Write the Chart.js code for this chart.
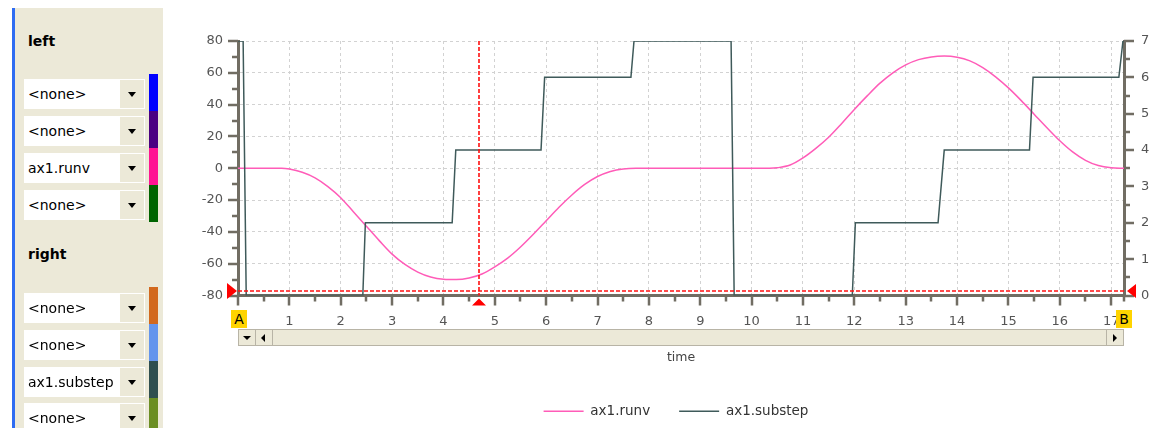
<!DOCTYPE html>
<html>
<head>
<meta charset="utf-8">
<script src="https://cdn.jsdelivr.net/npm/chart.js@4.4.1/dist/chart.umd.min.js"></script>
<style>
  body { margin: 0; width: 1152px; height: 428px; overflow: hidden; background: #fff; position: relative; font-family: 'DejaVu Sans', sans-serif; }
  .abs { position: absolute; }
  .slot { position: absolute; left: 24px; width: 121px; height: 30px; background: #fff; }
  .slot span { position: absolute; left: 4px; top: 7px; font-size: 14px; color: #000; }
  .slot .btn { position: absolute; right: 1px; top: 1px; width: 24px; height: 28px; background: #ece9d8; }
  .slot .btn:after { content: ''; position: absolute; left: 8px; top: 12px; border-left: 4px solid transparent; border-right: 4px solid transparent; border-top: 5px solid #000; }
  .head { position: absolute; left: 28px; font-size: 14px; font-weight: bold; color: #000; }
  .marker { position: absolute; width: 16px; height: 18px; background: #ffd400; font-size: 14px; text-align: center; line-height: 18px; color: #000; }
  .sbtn { position: absolute; top: 0; width: 16px; height: 15px; border-right: 1px solid #b8b4a6; }
</style>
</head>
<body>
<!-- side panel -->
<div class="abs" style="left:12px;top:8px;width:3px;height:420px;background:#2e6cf2"></div>
<div class="abs" id="panel" style="left:15px;top:8px;width:148px;height:420px;background:#ece9d8"></div>
<div class="head" style="top:33px">left</div>
<div class="head" style="top:246px">right</div>

<!-- chart -->
<div class="abs" style="left:182px;top:0;width:970px;height:428px">
  <canvas id="chart" width="970" height="428"></canvas>
</div>

<!-- scroll bar under the time axis -->
<div class="abs" style="left:238px;top:329px;width:884px;height:15px;background:#ece9d8;border:1px solid #b8b4a6">
  <div class="sbtn" style="left:0"><div class="abs" style="left:4px;top:6px;border-left:4px solid transparent;border-right:4px solid transparent;border-top:4px solid #000"></div></div>
  <div class="sbtn" style="left:17px"><div class="abs" style="left:5px;top:4px;border-top:4px solid transparent;border-bottom:4px solid transparent;border-right:4px solid #000"></div></div>
  <div class="sbtn" style="right:0;border-right:none;border-left:1px solid #b8b4a6"><div class="abs" style="left:6px;top:4px;border-top:4px solid transparent;border-bottom:4px solid transparent;border-left:4px solid #000"></div></div>
</div>
<div class="marker" style="left:231px;top:310px">A</div>
<div class="marker" style="left:1116px;top:310px">B</div>

<script>
// signal slots shown in the side panel
const leftSlots = ['<none>', '<none>', 'ax1.runv', '<none>'];
const leftColors = ['#0000ff', '#4b0082', '#ff1493', '#006400'];
const rightSlots = ['<none>', '<none>', 'ax1.substep', '<none>'];
const rightColors = ['#d2691e', '#6495ed', '#2f4f4f', '#6b8e23'];

// ax1.runv (left axis)
const runvTimes = [0, 0.5, 0.85, 1.0, 1.25, 1.5, 1.75, 2.0, 2.25, 2.5, 2.75, 3.0, 3.25, 3.5, 3.75, 4.0, 4.25, 4.5, 4.75, 5.0,
  5.25, 5.5, 5.75, 6.0, 6.25, 6.5, 6.75, 7.0, 7.25, 7.5, 7.75, 8.5, 9.5, 10.35, 10.5, 10.75, 11.0, 11.25, 11.5, 11.75,
  12.0, 12.25, 12.5, 12.75, 13.0, 13.25, 13.5, 13.75, 14.0, 14.25, 14.5, 14.75, 15.0, 15.25, 15.5, 15.75, 16.0, 16.25,
  16.5, 16.75, 17.0, 17.25];
const runvValues = [0, 0, 0, -0.5, -2.5, -6, -11.5, -18.5, -27.5, -36.5, -45.5, -54, -60.5, -65.3, -68.4, -69.8, -70, -69, -66.5, -62,
  -56.5, -49.5, -41.5, -33, -24.5, -16.8, -10.2, -5.2, -2, -0.4, 0, 0, 0, 0, 0.3, 2, 6.5, 12.5, 19.5, 28,
  37, 45.5, 53.5, 60, 65, 68.3, 70, 70.5, 69.8, 67.5, 63.3, 57.5, 50.5, 42.5, 34, 25.5, 17.3, 10.3,
  5, 1.7, 0.3, 0];

// ax1.substep (right axis)
const substepTimes = [0, 0.1, 0.16, 2.43, 2.48, 4.17, 4.24, 5.9, 5.97, 7.65, 7.71, 9.6, 9.66,
  11.96, 12.02, 13.63, 13.75, 15.41, 15.48, 17.15, 17.23, 17.25];
const substepValues = [7, 7, 0, 0, 2, 2, 4, 4, 6, 6, 7, 7, 0, 0, 2, 2, 4, 4, 6, 6, 7, 7];

// axis ticks
const timeTicks = [0, 1, 2, 3, 4, 5, 6, 7, 8, 9, 10, 11, 12, 13, 14, 15, 16, 17];
const timeMinor = [0.5, 1.5, 2.5, 3.5, 4.5, 5.5, 6.5, 7.5, 8.5, 9.5, 10.5, 11.5, 12.5, 13.5, 14.5, 15.5, 16.5, 17.25];
const leftTicks = [-80, -60, -40, -20, 0, 20, 40, 60, 80];
const leftMinor = [-70, -50, -30, -10, 10, 30, 50, 70];
const rightTicks = [0, 1, 2, 3, 4, 5, 6, 7];
const rightMinor = [0.5, 1.5, 2.5, 3.5, 4.5, 5.5, 6.5];

// cursors
const cursorTime = 4.7;
const cursorLevel = -77;

// build side panel
function buildSlots(slots, colors, rowTops, barTops) {
    slots.forEach((name, i) => {
        const row = document.createElement('div');
        row.className = 'slot';
        row.style.top = rowTops[i] + 'px';
        const label = document.createElement('span');
        label.textContent = name;
        row.appendChild(label);
        const btn = document.createElement('div');
        btn.className = 'btn';
        row.appendChild(btn);
        document.body.appendChild(row);

        const bar = document.createElement('div');
        bar.className = 'abs';
        bar.style.cssText = 'left:149px;width:9px;top:' + barTops[i] + 'px;height:37px;background:' + colors[i];
        document.body.appendChild(bar);
    });
}
buildSlots(leftSlots, leftColors, [79, 116, 153, 190], [74, 111, 148, 185]);
buildSlots(rightSlots, rightColors, [293, 330, 367, 403], [287, 324, 361, 398]);

const axisColor = '#716d63';
const tickFont = { family: 'DejaVu Sans', size: 13 };

// tick marks (major + minor) and cursor markers
const decorations = {
    id: 'decorations',
    afterDraw(chart) {
        const ctx = chart.ctx;
        const area = chart.chartArea;
        const x = chart.scales.x, yl = chart.scales.yLeft, yr = chart.scales.yRight;
        ctx.save();
        ctx.strokeStyle = axisColor;
        ctx.lineWidth = 2.5;
        ctx.beginPath();
        timeTicks.concat(timeMinor).forEach(v => {
            const px = Math.round(x.getPixelForValue(v));
            const len = timeTicks.includes(v) ? 10 : 6;
            ctx.moveTo(px, area.bottom); ctx.lineTo(px, area.bottom + len);
        });
        leftTicks.concat(leftMinor).forEach(v => {
            const py = Math.round(yl.getPixelForValue(v));
            const len = leftTicks.includes(v) ? 10 : 6;
            ctx.moveTo(area.left, py); ctx.lineTo(area.left - len, py);
        });
        rightTicks.concat(rightMinor).forEach(v => {
            const py = Math.round(yr.getPixelForValue(v));
            const len = rightTicks.includes(v) ? 10 : 6;
            ctx.moveTo(area.right, py); ctx.lineTo(area.right + len, py);
        });
        ctx.stroke();

        // red cursors
        const cx = Math.round(x.getPixelForValue(cursorTime));
        const cy = Math.round(yl.getPixelForValue(cursorLevel));
        ctx.strokeStyle = '#ff1010';
        ctx.lineWidth = 1.6;
        ctx.setLineDash([4, 2]);
        ctx.beginPath();
        ctx.moveTo(area.left, cy); ctx.lineTo(area.right, cy);
        ctx.moveTo(cx, area.top); ctx.lineTo(cx, area.bottom);
        ctx.stroke();
        ctx.setLineDash([]);
        ctx.fillStyle = '#ff0000';
        ctx.beginPath();
        ctx.moveTo(area.left - 1, cy); ctx.lineTo(area.left - 11, cy - 8); ctx.lineTo(area.left - 11, cy + 8); ctx.closePath();
        ctx.moveTo(area.right + 3, cy); ctx.lineTo(area.right + 12, cy - 7); ctx.lineTo(area.right + 12, cy + 7); ctx.closePath();
        ctx.moveTo(cx, area.bottom + 3); ctx.lineTo(cx - 7, area.bottom + 10); ctx.lineTo(cx + 7, area.bottom + 10); ctx.closePath();
        ctx.fill();
        ctx.restore();
    }
};

new Chart(document.getElementById('chart'), {
    type: 'line',
    data: {
        datasets: [
            {
                label: 'ax1.runv',
                data: runvTimes.map((t, i) => ({ x: t, y: runvValues[i] })),
                yAxisID: 'yLeft',
                borderColor: '#ff5cb8',
                borderWidth: 1.5,
                pointRadius: 0,
                cubicInterpolationMode: 'monotone',
                order: 1
            },
            {
                label: 'ax1.substep',
                data: substepTimes.map((t, i) => ({ x: t, y: substepValues[i] })),
                yAxisID: 'yRight',
                borderColor: '#3f5a5a',
                borderWidth: 1.5,
                pointRadius: 0,
                tension: 0,
                order: 0
            }
        ]
    },
    options: {
        responsive: false,
        animation: false,
        devicePixelRatio: 1,
        layout: { padding: { top: 41, left: 18, right: 0, bottom: 0 } },
        scales: {
            x: {
                type: 'linear',
                min: 0,
                max: 17.25,
                afterBuildTicks: scale => { scale.ticks = timeTicks.map(v => ({ value: v })); },
                afterFit: scale => { scale.height = 80; },
                ticks: { autoSkip: false, maxRotation: 0, padding: 18, color: '#555', font: tickFont },
                grid: { color: '#d2d2d2', drawTicks: false },
                border: { color: axisColor, width: 3, dash: [3, 3] },
                title: { display: true, text: 'time', color: '#444', font: { family: 'DejaVu Sans', size: 12.5 }, padding: { top: 0, bottom: 10 } }
            },
            yLeft: {
                type: 'linear',
                position: 'left',
                min: -80,
                max: 80,
                afterBuildTicks: scale => { scale.ticks = leftTicks.map(v => ({ value: v })); },
                afterFit: scale => { scale.width = 38; },
                ticks: { padding: 15, color: '#555', font: tickFont },
                grid: { color: '#d2d2d2', drawTicks: false },
                border: { color: axisColor, width: 3, dash: [3, 3] }
            },
            yRight: {
                type: 'linear',
                position: 'right',
                min: 0,
                max: 7,
                afterBuildTicks: scale => { scale.ticks = rightTicks.map(v => ({ value: v })); },
                afterFit: scale => { scale.width = 28; },
                ticks: { padding: 17, color: '#555', font: tickFont },
                grid: { display: false, drawTicks: false },
                border: { color: axisColor, width: 3 }
            }
        },
        plugins: {
            legend: {
                position: 'bottom',
                labels: {
                    usePointStyle: true,
                    pointStyle: 'line',
                    pointStyleWidth: 40,
                    padding: 29,
                    color: '#333',
                    font: { family: 'DejaVu Sans', size: 13.5 },
                    sort: (a, b) => a.datasetIndex - b.datasetIndex
                }
            },
            tooltip: { enabled: false }
        }
    },
    plugins: [decorations]
});
</script>
</body>
</html>
